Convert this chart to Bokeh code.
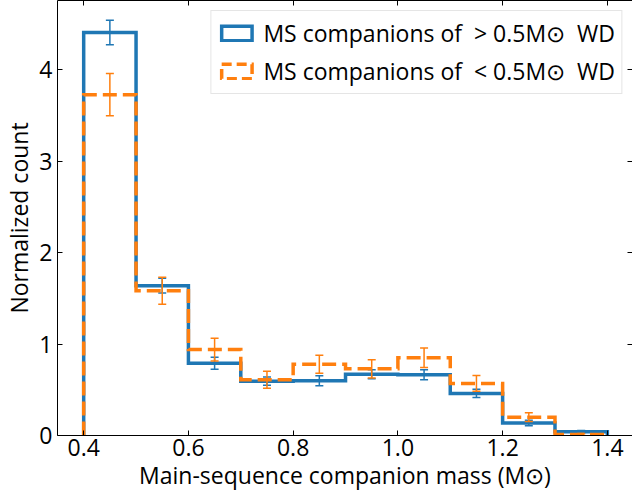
from bokeh.plotting import figure
from bokeh.models import (ColumnDataSource, FixedTicker, LinearAxis, Legend, LegendItem, Range1d)
from bokeh.embed import file_html
from bokeh.resources import INLINE

# ---- data ----
bin_edges = [0.4, 0.5, 0.6, 0.7, 0.8, 0.9, 1.0, 1.1, 1.2, 1.3, 1.4]
heavy_wd_counts = [4.41, 1.64, 0.79, 0.595, 0.60, 0.67, 0.665, 0.46, 0.137, 0.04]
heavy_wd_errors = [0.135, 0.08, 0.065, 0.045, 0.055, 0.05, 0.055, 0.045, 0.03, 0.015]
light_wd_counts = [3.73, 1.585, 0.94, 0.61, 0.78, 0.73, 0.85, 0.57, 0.20, 0.012]
light_wd_errors = [0.23, 0.148, 0.125, 0.094, 0.098, 0.10, 0.107, 0.087, 0.048, 0.01]

heavy_label = "MS companions of  > 0.5M\u2299  WD"
light_label = "MS companions of  < 0.5M\u2299  WD"
x_label = "Main-sequence companion mass (M\u2299)"
y_label = "Normalized count"
x_ticks = [0.4, 0.6, 0.8, 1.0, 1.2, 1.4]
x_tick_labels = ["0.4", "0.6", "0.8", "1.0", "1.2", "1.4"]
y_ticks = [0, 1, 2, 3, 4]
y_tick_labels = ["0", "1", "2", "3", "4"]

BLUE = "#1f77b4"
ORANGE = "#ff7f0e"
FONT = "Open Sans"
FS = "23px"


def step_xy(edges, vals):
    xs = [edges[0]]
    ys = [0.0]
    for i, v in enumerate(vals):
        xs += [edges[i], edges[i + 1]]
        ys += [v, v]
    xs.append(edges[-1])
    ys.append(0.0)
    return xs, ys


centers = [(bin_edges[i] + bin_edges[i + 1]) / 2 for i in range(len(bin_edges) - 1)]

p = figure(width=632, height=493, output_backend="svg", toolbar_location=None,
           x_range=Range1d(0.35, 1.448), y_range=Range1d(0, 4.76),
           min_border_left=57, min_border_right=0, min_border_top=0, min_border_bottom=0)
p.grid.visible = False
p.outline_line_color = None
p.background_fill_color = "white"
p.border_fill_color = "white"


def style_axis(ax, labels=True):
    ax.major_tick_in = 5
    ax.major_tick_out = 0
    ax.minor_tick_line_color = None
    ax.major_tick_line_color = "black"
    ax.axis_line_color = "black"
    ax.major_label_text_font = FONT
    ax.major_label_text_font_size = FS if labels else "1px"
    ax.major_label_text_color = "black"
    ax.axis_label_text_font = FONT
    ax.axis_label_text_font_size = FS
    ax.axis_label_text_font_style = "normal"
    ax.axis_label_text_color = "black"
    if not labels:
        ax.major_label_standoff = 0


xa = p.xaxis[0]
ya = p.yaxis[0]
style_axis(xa)
style_axis(ya)
xa.ticker = FixedTicker(ticks=x_ticks)
xa.major_label_overrides = {t: l for t, l in zip(x_ticks, x_tick_labels)}
ya.ticker = FixedTicker(ticks=y_ticks)
ya.major_label_overrides = {t: l for t, l in zip(y_ticks, y_tick_labels)}
xa.axis_label = x_label
ya.axis_label = y_label
xa.major_label_standoff = 3
ya.major_label_standoff = 5
xa.axis_label_standoff = 0
ya.axis_label_standoff = 1

top_ax = LinearAxis(ticker=FixedTicker(ticks=x_ticks))
style_axis(top_ax, labels=False)
top_ax.major_label_overrides = {t: "" for t in x_ticks}
p.add_layout(top_ax, "above")
right_ax = LinearAxis(ticker=FixedTicker(ticks=y_ticks))
style_axis(right_ax, labels=False)
right_ax.major_label_overrides = {t: "" for t in y_ticks}
right_ax.axis_line_color = None
p.add_layout(right_ax, "right")

# blue histogram
bx, by = step_xy(bin_edges, heavy_wd_counts)
p.line(bx, by, line_color=BLUE, line_width=3.5, line_join="miter")
src_b = ColumnDataSource(dict(x=centers, y=heavy_wd_counts, err=heavy_wd_errors,
                              lo=[v - e for v, e in zip(heavy_wd_counts, heavy_wd_errors)],
                              hi=[v + e for v, e in zip(heavy_wd_counts, heavy_wd_errors)]))
p.segment(x0="x", y0="lo", x1="x", y1="hi", source=src_b, line_color=BLUE, line_width=1.5)
p.scatter(x="x", y="lo", marker="dash", size=8, line_color=BLUE, line_width=1.5, source=src_b)
p.scatter(x="x", y="hi", marker="dash", size=8, line_color=BLUE, line_width=1.5, source=src_b)

# orange histogram
ox, oy = step_xy(bin_edges, light_wd_counts)
p.line(ox, oy, line_color=ORANGE, line_width=3.5, line_dash="14 6", line_join="miter")
src_o = ColumnDataSource(dict(x=centers, y=light_wd_counts, err=light_wd_errors,
                              lo=[v - e for v, e in zip(light_wd_counts, light_wd_errors)],
                              hi=[v + e for v, e in zip(light_wd_counts, light_wd_errors)]))
p.segment(x0="x", y0="lo", x1="x", y1="hi", source=src_o, line_color=ORANGE, line_width=1.5)
p.scatter(x="x", y="lo", marker="dash", size=8, line_color=ORANGE, line_width=1.5, source=src_o)
p.scatter(x="x", y="hi", marker="dash", size=8, line_color=ORANGE, line_width=1.5, source=src_o)

# legend proxies (rectangles)
nan = float("nan")
qb = p.quad(left=[nan], right=[nan], top=[nan], bottom=[nan], fill_color=None,
            line_color=BLUE, line_width=3.5, line_join="miter")
qo = p.quad(left=[nan], right=[nan], top=[nan], bottom=[nan], fill_color=None,
            line_color=ORANGE, line_width=3.5, line_dash="10 5", line_join="miter")
legend = Legend(items=[LegendItem(label=heavy_label, renderers=[qb]),
                       LegendItem(label=light_label, renderers=[qo])],
                location="top_right", margin=10, padding=6, spacing=6,
                glyph_width=38, glyph_height=18, label_standoff=8,
                label_text_font=FONT, label_text_font_size=FS, label_text_color="black",
                border_line_color="#cccccc", border_line_width=1,
                background_fill_alpha=0.8)
p.add_layout(legend)

open("out.html", "w").write(file_html(p, INLINE))
